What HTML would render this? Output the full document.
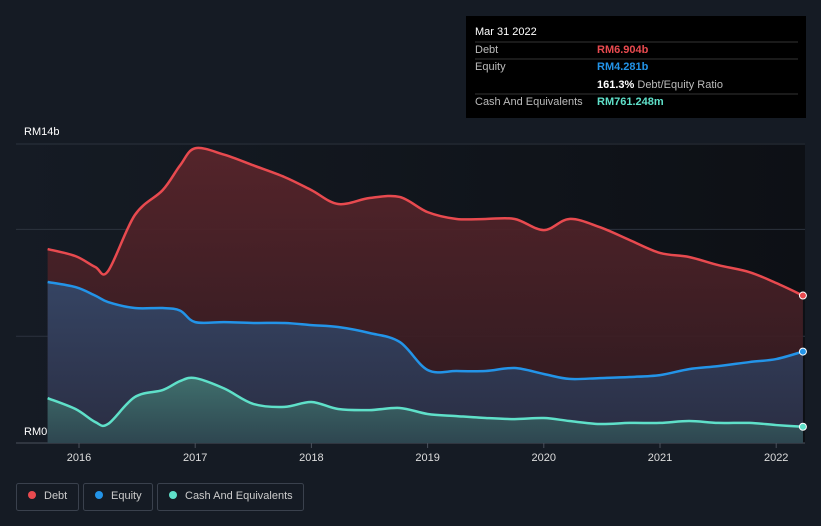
<!DOCTYPE html>
<html><head><meta charset="utf-8"><style>
body{margin:0;background:#151b24;font-family:"Liberation Sans",sans-serif;}
svg{display:block}
</style></head><body>
<svg width="821" height="526" viewBox="0 0 821 526">
<defs>
<linearGradient id="gd" x1="0" y1="0" x2="0" y2="1"><stop offset="0" stop-color="#5a252b"/><stop offset="1" stop-color="#2e1a20"/></linearGradient>
<linearGradient id="ge" x1="0" y1="0" x2="0" y2="1"><stop offset="0" stop-color="#354463"/><stop offset="1" stop-color="#2a2d42"/></linearGradient>
<linearGradient id="gc" x1="0" y1="0" x2="0" y2="1"><stop offset="0" stop-color="#3f6e6c"/><stop offset="1" stop-color="#2e4650"/></linearGradient>
<linearGradient id="gbg" x1="0" y1="0" x2="1" y2="0"><stop offset="0" stop-color="#151b24"/><stop offset="1" stop-color="#0d1015"/></linearGradient>
</defs>
<rect x="0" y="0" width="821" height="526" fill="#151b24"/>
<rect x="16" y="143" width="789" height="300" fill="url(#gbg)"/>
<g id="grid"></g>
<g id="areas"></g>
<g id="xaxis"></g>
<text x="24" y="135" fill="#fff" font-size="11">RM14b</text>
<text x="24" y="435" fill="#fff" font-size="11">RM0</text>
<g>
<rect x="466" y="16" width="340" height="102" fill="#000"/>
<text x="475" y="35" fill="#fff" font-size="11">Mar 31 2022</text>
<line x1="475" y1="42" x2="798" y2="42" stroke="#333"/>
<text x="475" y="53" fill="#bbb" font-size="11">Debt</text>
<text x="597" y="53" fill="#e84a4f" font-size="11" font-weight="bold">RM6.904b</text>
<line x1="475" y1="59" x2="798" y2="59" stroke="#333"/>
<text x="475" y="70" fill="#bbb" font-size="11">Equity</text>
<text x="597" y="70" fill="#2394e8" font-size="11" font-weight="bold">RM4.281b</text>
<text x="597" y="88" fill="#fff" font-size="11"><tspan font-weight="bold">161.3%</tspan><tspan fill="#bbb"> Debt/Equity Ratio</tspan></text>
<line x1="475" y1="94" x2="798" y2="94" stroke="#333"/>
<text x="475" y="105" fill="#bbb" font-size="11">Cash And Equivalents</text>
<text x="597" y="105" fill="#5fe0c9" font-size="11" font-weight="bold">RM761.248m</text>
</g>
<g>
<g><rect x="16.5" y="483.5" width="62" height="27" rx="2" fill="none" stroke="#3a414d"/><circle cx="32" cy="495" r="4" fill="#e84a4f"/><text x="44" y="499" fill="#ccc" font-size="11">Debt</text></g>
<g><rect x="83.5" y="483.5" width="69" height="27" rx="2" fill="none" stroke="#3a414d"/><circle cx="99" cy="495" r="4" fill="#2394e8"/><text x="111" y="499" fill="#ccc" font-size="11">Equity</text></g>
<g><rect x="157.5" y="483.5" width="146" height="27" rx="2" fill="none" stroke="#3a414d"/><circle cx="173" cy="495" r="4" fill="#5fe0c9"/><text x="185" y="499" fill="#ccc" font-size="11">Cash And Equivalents</text></g>
</g>
</svg>
<script>
const dates=[2015.73,2015.97,2016.14,2016.25,2016.48,2016.72,2016.87,2017.0,2017.25,2017.5,2017.77,2018.0,2018.23,2018.5,2018.76,2019.0,2019.25,2019.5,2019.75,2020.0,2020.22,2020.48,2020.74,2021.0,2021.25,2021.5,2021.77,2022.0,2022.23];
const debt=[9.08,8.75,8.24,8.05,10.67,11.84,13.0,13.8,13.5,13.0,12.45,11.84,11.19,11.47,11.52,10.81,10.49,10.49,10.49,9.97,10.49,10.11,9.5,8.9,8.71,8.33,8.0,7.49,6.904];
const equity=[7.54,7.3,6.9,6.6,6.32,6.32,6.2,5.66,5.66,5.62,5.62,5.52,5.43,5.15,4.73,3.42,3.37,3.37,3.51,3.23,3.0,3.04,3.09,3.18,3.46,3.6,3.79,3.93,4.281];
const cash=[2.1,1.59,0.98,0.89,2.15,2.48,2.9,3.04,2.55,1.83,1.69,1.92,1.59,1.54,1.64,1.36,1.26,1.17,1.12,1.17,1.03,0.89,0.94,0.94,1.03,0.94,0.94,0.84,0.761];
const yTicks=[0,5,10,14];
const xTicks=[2016,2017,2018,2019,2020,2021,2022];
const NS="http://www.w3.org/2000/svg";
const X=t=>79+(t-2016)*116.2;
const Y=v=>443-v*(299/14);
function path(vals){
  const p=dates.map((d,i)=>[X(d),Y(vals[i])]);
  let s=`M${p[0][0]},${p[0][1]}`;
  for(let i=0;i<p.length-1;i++){
    const p0=p[i-1]||p[i],p1=p[i],p2=p[i+1],p3=p[i+2]||p2;
    const c1=[p1[0]+(p2[0]-p0[0])/6,p1[1]+(p2[1]-p0[1])/6];
    const c2=[p2[0]-(p3[0]-p1[0])/6,p2[1]-(p3[1]-p1[1])/6];
    s+=`C${c1[0]},${c1[1]} ${c2[0]},${c2[1]} ${p2[0]},${p2[1]}`;
  }
  return s;
}
const grid=document.getElementById('grid');
yTicks.forEach(v=>{
  const l=document.createElementNS(NS,'line');
  l.setAttribute('x1',16);l.setAttribute('x2',805);l.setAttribute('y1',Y(v));l.setAttribute('y2',Y(v));
  l.setAttribute('stroke',v===0?'#4a515c':'#2c333e');
  
  
  grid.appendChild(l);
});
const areas=document.getElementById('areas');
const x0=X(dates[0]),x1=X(dates[dates.length-1]);
[[debt,'url(#gd)','debt'],[equity,'url(#ge)','equity'],[cash,'url(#gc)','cash']].forEach(([vals,fill,nm])=>{
  const a=document.createElementNS(NS,'path');
  a.setAttribute('d',path(vals)+`L${x1},${Y(0)}L${x0},${Y(0)}Z`);
  a.setAttribute('fill',fill);
  if(nm==='debt')a.setAttribute('fill-opacity','0.92');
  
  
  areas.appendChild(a);
});
[[debt,'#e84a4f','debt'],[equity,'#2394e8','equity'],[cash,'#5fe0c9','cash']].forEach(([vals,col,nm])=>{
  const l=document.createElementNS(NS,'path');
  l.setAttribute('d',path(vals));
  l.setAttribute('fill','none');l.setAttribute('stroke',col);l.setAttribute('stroke-width','2.5');
  
  
  areas.appendChild(l);
  const c=document.createElementNS(NS,'circle');
  c.setAttribute('cx',x1);c.setAttribute('cy',Y(vals[vals.length-1]));c.setAttribute('r',3.5);
  c.setAttribute('fill',col);c.setAttribute('stroke','#fff');c.setAttribute('stroke-width','1');
  
  
  areas.appendChild(c);
});
const xa=document.getElementById('xaxis');
xTicks.forEach(t=>{
  const tk=document.createElementNS(NS,'line');
  tk.setAttribute('x1',X(t));tk.setAttribute('x2',X(t));tk.setAttribute('y1',443);tk.setAttribute('y2',448);
  tk.setAttribute('stroke','#4a515c');
  
  
  xa.appendChild(tk);
  const tx=document.createElementNS(NS,'text');
  tx.setAttribute('x',X(t));tx.setAttribute('y',461);tx.setAttribute('fill','#ddd');
  tx.setAttribute('font-size','11');tx.setAttribute('text-anchor','middle');
  tx.textContent=t;
  
  
  xa.appendChild(tx);
});
</script>
</body></html>
